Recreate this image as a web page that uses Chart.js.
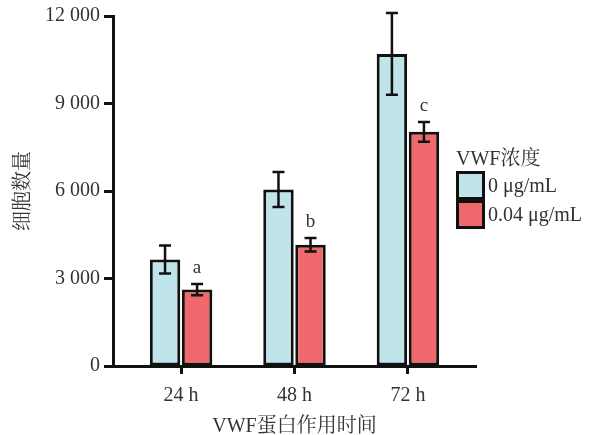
<!DOCTYPE html>
<html>
<head>
<meta charset="utf-8">
<script src="https://cdn.jsdelivr.net/npm/chart.js@4/dist/chart.umd.min.js"></script>
<style>
  html, body { margin: 0; padding: 0; background: #fff; }
  #wrap { width: 594px; height: 435px; }
</style>
</head>
<body>
<div id="wrap"><canvas id="c" width="594" height="435"></canvas></div>
<script>
// ---- data ----
const categories = ['24 h', '48 h', '72 h'];
const seriesLabels = ['0 μg/mL', '0.04 μg/mL'];
const controlMeans = [3650, 6050, 10700];
const controlSD = [480, 600, 1400];
const treatedMeans = [2620, 4160, 8030];
const treatedSD = [190, 230, 340];
const sigLetters = ['a', 'b', 'c'];
const yTickValues = [0, 3000, 6000, 9000, 12000];
const yTickLabels = ['0', '3 000', '6 000', '9 000', '12 000'];
const legendTitle = 'VWF浓度';
const xTitle = 'VWF蛋白作用时间';
const yTitle = '细胞数量';

const SERIF = "'Liberation Serif', 'Noto Serif CJK SC', 'Noto Sans CJK SC', serif";
const TEXT = '#333';
Chart.defaults.font.family = SERIF;
Chart.defaults.color = TEXT;

const toPoints = arr => arr.map((v, i) => ({ x: i + 1, y: v }));

const errorBarPlugin = {
  id: 'errorBars',
  afterDatasetsDraw(chart) {
    const ctx = chart.ctx;
    const yScale = chart.scales.y;
    ctx.save();
    ctx.strokeStyle = '#111';
    ctx.lineWidth = 2.5;
    chart.data.datasets.forEach((ds, di) => {
      const meta = chart.getDatasetMeta(di);
      meta.data.forEach((bar, j) => {
        const m = ds.data[j].y, sd = ds.sd[j];
        const yt = yScale.getPixelForValue(m + sd);
        const yb = yScale.getPixelForValue(m - sd);
        const x = bar.x, cw = 6;
        ctx.beginPath();
        ctx.moveTo(x, yt); ctx.lineTo(x, yb);
        ctx.moveTo(x - cw, yt); ctx.lineTo(x + cw, yt);
        ctx.moveTo(x - cw, yb); ctx.lineTo(x + cw, yb);
        ctx.stroke();
      });
    });
    // significance letters above treated bars
    const meta = chart.getDatasetMeta(1);
    const ds = chart.data.datasets[1];
    ctx.fillStyle = TEXT;
    ctx.font = '19px ' + SERIF;
    ctx.textAlign = 'center';
    ctx.textBaseline = 'alphabetic';
    meta.data.forEach((bar, j) => {
      const yt = yScale.getPixelForValue(ds.data[j].y + ds.sd[j]);
      ctx.fillText(sigLetters[j], bar.x, yt - 11);
    });
    ctx.restore();
  }
};

const legendPlugin = {
  id: 'customLegend',
  afterDraw(chart) {
    const ctx = chart.ctx;
    const ca = chart.chartArea;
    const x0 = ca.right - 20;
    ctx.save();
    ctx.fillStyle = TEXT;
    ctx.font = '20px ' + SERIF;
    ctx.textAlign = 'left';
    ctx.textBaseline = 'middle';
    ctx.fillText(legendTitle, x0, 160);
    chart.data.datasets.forEach((ds, i) => {
      const y0 = 172.5 + i * 29;
      ctx.fillStyle = ds.backgroundColor;
      ctx.fillRect(x0 + 1.5, y0, 26, 26);
      ctx.strokeStyle = '#111';
      ctx.lineWidth = 3;
      ctx.strokeRect(x0 + 1.5, y0, 26, 26);
      ctx.fillStyle = TEXT;
      ctx.fillText(ds.label, x0 + 32, y0 + 14);
    });
    ctx.restore();
  }
};

new Chart(document.getElementById('c'), {
  type: 'bar',
  data: {
    datasets: [
      { label: seriesLabels[0], data: toPoints(controlMeans), sd: controlSD,
        backgroundColor: '#bfe4ea', borderColor: '#111', borderWidth: 3, borderSkipped: false },
      { label: seriesLabels[1], data: toPoints(treatedMeans), sd: treatedSD,
        backgroundColor: '#ef686b', borderColor: '#111', borderWidth: 3, borderSkipped: false }
    ]
  },
  options: {
    responsive: false,
    animation: false,
    devicePixelRatio: 1,
    layout: { padding: { left: 0, top: 14, right: 118, bottom: 0 } },
    datasets: { bar: { categoryPercentage: 0.565, barPercentage: 0.95 } },
    plugins: { legend: { display: false }, tooltip: { enabled: false } },
    scales: {
      x: {
        type: 'linear',
        offset: false,
        min: 0.4, max: 3.6,
        afterBuildTicks: s => { s.ticks = categories.map((c, i) => ({ value: i + 1 })); },
        afterFit: s => { s.height = 69; },
        ticks: { callback: v => categories[Math.round(v) - 1], font: { size: 20 }, padding: 10, color: TEXT, maxRotation: 0 },
        grid: { display: true, offset: false, drawOnChartArea: false, drawTicks: true, tickLength: 8, tickWidth: 3, tickColor: '#111' },
        border: { display: true, color: '#111', width: 3 },
        title: { display: true, text: xTitle, font: { size: 20 }, padding: { top: 0, bottom: -4 }, color: TEXT }
      },
      y: {
        min: 0, max: 12000,
        afterBuildTicks: s => { s.ticks = yTickValues.map(v => ({ value: v })); },
        afterFit: s => { s.width = 113; },
        ticks: { callback: v => yTickLabels[yTickValues.indexOf(v)], font: { size: 20 }, padding: 4, color: TEXT },
        grid: { display: true, drawOnChartArea: false, drawTicks: true, tickLength: 9, tickWidth: 3, tickColor: '#111' },
        border: { display: true, color: '#111', width: 3 },
        title: { display: true, text: yTitle, font: { size: 20 }, padding: { top: 12, bottom: 0 }, color: TEXT }
      }
    }
  },
  plugins: [errorBarPlugin, legendPlugin]
});
</script>
</body>
</html>
